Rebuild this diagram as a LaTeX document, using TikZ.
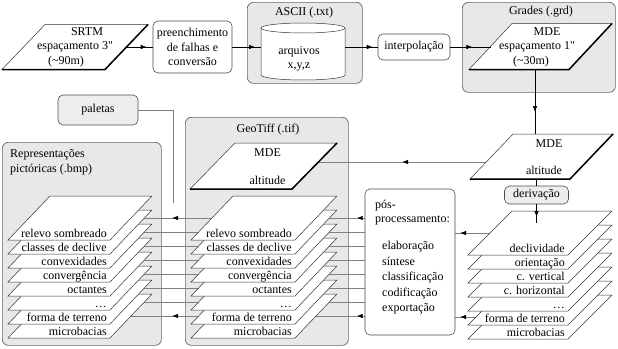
\documentclass[tikz,border=0pt]{standalone}
\usepackage{fontspec}
\setmainfont{Liberation Serif}
\newfontfamily\diagfont{Liberation Serif}
\usetikzlibrary{arrows.meta,decorations.markings}
\pgfdeclarelayer{grp}
\pgfdeclarelayer{wire}
\pgfsetlayers{grp,wire,main}

% data sheet: name, bottom-left x, bottom y, width, skew, height
\newcommand{\datashape}[6]{%
  \draw[sheet] (#2,#3) -- ++(#4,0) -- ++(#5,-#6) -- ++(-#4,0) -- cycle;
  \coordinate (#1-bl) at (#2,#3);
  \coordinate (#1-br) at ({#2+#4},#3);
  \coordinate (#1-tr) at ({#2+#4+#5},{#3-#6});
  \coordinate (#1-w) at ({#2+#5/2},{#3-#6/2});
  \coordinate (#1-e) at ({#2+#4+#5/2},{#3-#6/2});
}

\begin{document}
\begin{tikzpicture}[x=1pt,y=-1pt,font=\diagfont\fontsize{12}{14.5}\selectfont,
  grp/.style={draw=black!60,line width=0.7pt,fill=black!9,rounded corners=6pt,inner sep=0pt},
  box/.style={draw=black!70,line width=0.6pt,fill=white,rounded corners=5pt,align=center,inner sep=1pt},
  sheet/.style={draw=black!80,line width=0.5pt,fill=white},
  heavy/.style={line width=1.5pt},
  wire/.style={draw=black,line width=0.6pt},
  link/.style={draw=black!50,line width=0.8pt},
  lbl/.style={anchor=base east,inner sep=0pt},
  tip at/.style={postaction={decorate},decoration={markings,
    mark=at position #1 with {\arrow[black]{Latex[length=6pt,width=4.5pt]}}}}]
\useasboundingbox (0,0) rectangle (618,348);

% groups
\begin{pgfonlayer}{grp}
\node[grp,anchor=north west,minimum width=115pt,minimum height=81pt] (grpAscii) at (247,2) {};
\node[grp,anchor=north west,minimum width=153pt,minimum height=90pt] (grpGrades) at (462,2) {};
\node[grp,anchor=north west,minimum width=159pt,minimum height=203pt] (grpRep) at (2,142) {};
\node[grp,anchor=north west,minimum width=163pt,minimum height=228pt] (grpGeo) at (185,117) {};
\end{pgfonlayer}
\node (asciiT) at (304,12.5) {ASCII (.txt)};
\node (gradesT) at (541,12) {Grades (.grd)};
\node (geoT) at (268,130) {GeoTiff (.tif)};
\node[anchor=north west,align=left,inner sep=0pt] (repT) at (10,149.5) {Representações\\pictóricas (.bmp)};

% top row
\datashape{srtm}{2}{69.5}{103}{43}{45}
\draw[heavy] (srtm-bl) -- (srtm-br) -- (srtm-tr);
\node[align=center] (srtmT) at (75,47) {\hspace*{24pt}SRTM\\espaçamento 3"\\(\textasciitilde90m)\hspace*{18pt}};
\node[box,minimum width=79pt,minimum height=52pt] (pre) at (192.5,47) {preenchimento\\de falhas e\\conversão};
\draw[sheet] (261,28) -- (261,75) arc[start angle=180,end angle=360,x radius=42pt,y radius=5pt] -- (345,28);
\draw[sheet] (303,28) ellipse[x radius=42pt,y radius=5pt];
\coordinate (cyl-w) at (261,47);
\coordinate (cyl-e) at (345,47);
\node[align=center] (cylT) at (299,59) {arquivos\\x,y,z};
\node[box,minimum width=72pt,minimum height=26pt] (interp) at (414,47) {interpolação};
\datashape{grd}{469}{69.5}{100}{43}{46}
\draw[heavy] (grd-bl) -- (grd-br) -- (grd-tr);
\node[align=center] (grdT) at (537,47) {\hspace*{20pt}MDE\\espaçamento 1"\\(\textasciitilde30m)\hspace*{12pt}};
\coordinate (grdOut) at (535,69.5);

\draw[wire,tip at=-6pt] (srtm-e) -- (srtm-e -| pre.west);
\draw[wire,tip at=-6pt] (pre.east) -- (cyl-w);
\draw[wire,tip at=-5pt] (cyl-e) -- (interp.west);
\draw[wire,tip at=22pt] (interp.east) -- (interp.east -| grd-w);

% MDE derived
\datashape{mdeR}{470}{179}{100}{43}{45}
\draw[heavy] (mdeR-bl) -- (mdeR-br) -- (mdeR-tr);
\node[align=center] (mdeRT) at (546,157.5) {\hspace*{6pt}MDE\\[12.5pt]altitude\hspace*{4pt}};
\coordinate (mdeIn) at (535,134);
\coordinate (mdeOut) at (486,162);
\draw[wire,tip at=-22pt] (grdOut) -- (mdeIn);

\datashape{gmde}{190}{189}{102}{45}{46}
\draw[heavy] (gmde-bl) -- (gmde-br) -- (gmde-tr);
\node[align=center] (gmdeT) at (267.5,167) {MDE\\[13.5pt]altitude};
\coordinate (geoIn) at (318,162);

\node[box,fill=black!7,minimum width=64pt,minimum height=18pt,inner sep=0pt] (der) at (536.5,195) {derivação};
\node[box,fill=black!7,minimum width=80pt,minimum height=30pt] (pal) at (98,110) {paletas};
\coordinate (palEnd) at (173,203);

\node[box,minimum width=90pt,minimum height=146pt] (pos) at (410,262) {};
\node[anchor=north west,align=left,inner sep=0pt] (posT) at (375,199.5)
  {pós-\\processamento:\\[12.5pt]\hspace*{7pt}elaboração\\[1pt]\hspace*{7pt}síntese\\[1pt]%
   \hspace*{7pt}classificação\\[1pt]\hspace*{7pt}codificação\\[1pt]\hspace*{7pt}exportação};

% stacks of sheets
\foreach \k/\txt in {7/microbacias,6/forma de terreno,5/\ldots,4/octantes,3/convergência,
    2/convexidades,1/classes de declive,0/relevo sombreado}{
  \datashape{rep\k}{8}{240+14*\k}{102}{42}{44}
  \node[lbl,xshift=-3pt,yshift=3pt] (repT\k) at (rep\k-br) {\txt};
  \datashape{geo\k}{191}{240+14*\k}{104}{42}{44}
  \node[lbl,xshift=-3pt,yshift=3pt] (geoT\k) at (geo\k-br) {\txt};
}
\foreach \k/\txt in {6/microbacias,5/forma de terreno,4/\ldots,3/c. horizontal,2/c. vertical,
    1/orientação,0/declividade}{
  \datashape{rs\k}{468}{255+14*\k}{100}{44}{44}
  \node[lbl,xshift=-3pt,yshift=3pt] (rsT\k) at (rs\k-br) {\txt};
}
\coordinate (rsIn) at (536.5,223);
\draw[wire] (der.north |- mdeR-bl) -- (der.north);
\draw[wire,tip at=-6pt] (der.south) -- (rsIn);

% links between stacks
\begin{pgfonlayer}{wire}
\foreach \k in {1,...,6}{
  \draw[link] (pos.west |- geo\k-e) -- (geo\k-e);
  \draw[link] (geo\k-w) -- (rep\k-e);
}
\foreach \k in {0,7}{
  \draw[link,tip at=8pt] (pos.west |- geo\k-e) -- (geo\k-e);
  \draw[link,tip at=40pt] (geo\k-w) -- (rep\k-e);
}
\foreach \k in {0,6}
  \draw[link,tip at=30pt] (rs\k-w) -- (rs\k-w -| pos.east);
\draw[link,tip at=0.5] (mdeOut) -- (geoIn);
\draw[link] (pal.east) -| (palEnd);
\end{pgfonlayer}
\end{tikzpicture}
\end{document}
